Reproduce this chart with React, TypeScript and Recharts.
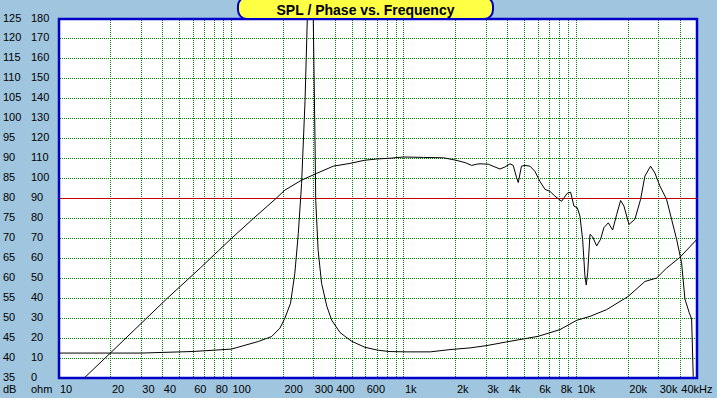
import React from 'react';
import { LineChart, Line, XAxis, YAxis, CartesianGrid, ReferenceLine, ReferenceArea } from 'recharts';

// axis ticks
const dbTicks = [35, 40, 45, 50, 55, 60, 65, 70, 75, 80, 85, 90, 95, 100, 105, 110, 115, 120, 125];
const ohmTicks = [0, 10, 20, 30, 40, 50, 60, 70, 80, 90, 100, 110, 120, 130, 140, 150, 160, 170, 180];
const freqGrid = [
  10, 20, 30, 40, 50, 60, 70, 80, 90,
  100, 200, 300, 400, 500, 600, 700, 800, 900,
  1000, 2000, 3000, 4000, 5000, 6000, 7000, 8000, 9000,
  10000, 20000, 30000, 40000,
];
const labeledFreqs = [10, 20, 30, 40, 60, 80, 100, 200, 300, 400, 600, 1000, 2000, 3000, 4000, 6000, 8000, 10000, 20000, 30000, 40000];
const freqLabelText = ['10', '20', '30', '40', '60', '80', '100', '200', '300', '400', '600', '1k', '2k', '3k', '4k', '6k', '8k', '10k', '20k', '30k', '40kHz'];

// SPL curve (dB, left scale)
const splFreq = [
  14, 20, 42, 66, 84, 100, 134, 179, 204, 255, 312, 389, 486, 594, 695, 830, 990, 1300, 1700, 2000,
  2260, 2470, 2640, 2760, 3080, 3370, 3600, 3850, 4120, 4300, 4500, 4600, 4800, 5030, 5380, 5750, 6140,
  6570, 7020, 7500, 8200, 8840, 9250, 9670, 10110, 10480, 10860, 11200, 11400, 11620, 11980, 12410,
  13100, 13810, 14430, 15300, 16220, 17110, 18040, 18860, 20160, 21830, 23550, 24940, 26900, 28500,
  30480, 33310, 35610, 38070, 40700, 42560, 45050, 46530, 47550,
];
const splDb = [
  35, 41.4, 54.8, 62.6, 66.9, 70, 75, 79.8, 82.1, 84.6, 86.3, 88.1, 88.8, 89.6, 89.9, 90.1, 90.4, 90.3, 90.2, 89.6,
  89, 88.3, 88.6, 88.7, 88.6, 87.9, 87.4, 87.9, 88.7, 88.3, 85.2, 84, 88.1, 88.3, 88.1, 86.8, 84.3,
  82.3, 81.8, 80.6, 79.3, 81.3, 81.6, 78.1, 77.7, 75.6, 69.8, 60.6, 58.3, 61.4, 71, 70.4,
  68.1, 69.8, 72.7, 73.9, 72.1, 76, 79.5, 78.1, 73.5, 74.8, 79.8, 85.6, 88.1, 86.4,
  83.1, 79.8, 74.8, 69.8, 63.9, 54.8, 51.4, 49.8, 35.3,
];

// impedance curve (ohm, right-hand label column)
const impFreq = [
  10, 30, 60, 100, 143, 171, 191, 204, 220, 233, 244, 255, 267, 275, 285, 298, 305, 308, 318, 333, 357, 381,
  426, 455, 498, 594, 709, 830, 1040, 1420, 1850, 2420, 3020, 3940, 6000, 8020, 10020, 11980, 14940,
  19950, 24940, 29130, 33310, 39810, 50000,
];
const impOhm = [
  12.5, 12.5, 13.3, 14.5, 18.3, 20.8, 25, 30, 37.5, 52.5, 72.5, 97.5, 139, 179, 230, 180, 119, 89, 64, 47.5, 36, 29,
  22.8, 20.9, 18.4, 15.4, 13.9, 13.25, 13.1, 13.1, 14.25, 15.1, 16.25, 18.1, 20.9, 24.25, 28.9, 30.9, 34.25,
  40.9, 48.4, 50.1, 55.1, 60.5, 69.6,
];

const splData = splFreq.map((f, i) => ({ f, db: splDb[i] }));
const impData = impFreq.map((f, i) => ({ f, ohm: impOhm[i] }));

const BG = '#A0C6DF';
const BLUE = '#0000C8';
const GRID = '#008000';
const FONT = "'Liberation Sans', Arial, sans-serif";

const snap = (v: number) => Math.floor(v) + 0.5;

// dotted green grid line, snapped to whole pixels
const GridLine = (p: any) => (
  <line
    key={p.key}
    x1={snap(p.x1)}
    y1={snap(p.y1)}
    x2={snap(p.x2)}
    y2={snap(p.y2)}
    stroke={GRID}
    strokeWidth={1}
    strokeDasharray="1 1"
    shapeRendering="crispEdges"
  />
);

const YTick = (props: any) => {
  const { y, payload } = props;
  const idx = dbTicks.indexOf(payload.value);
  return (
    <g>
      <text x={3} y={y + 2.5} fontSize={11} fill="#000" textAnchor="start">{payload.value}</text>
      <text x={31} y={y + 2.5} fontSize={11} fill="#000" textAnchor="start">{ohmTicks[idx]}</text>
      {idx === 0 && (
        <>
          <text x={3} y={y + 15} fontSize={11} fill="#000">dB</text>
          <text x={31} y={y + 15} fontSize={11} fill="#000">ohm</text>
        </>
      )}
    </g>
  );
};

const XTick = (props: any) => {
  const { x, y, payload } = props;
  const idx = labeledFreqs.indexOf(payload.value);
  if (idx < 0) return null;
  return (
    <text x={x + 1} y={y + 15} fontSize={11} fill="#000" textAnchor="start">{freqLabelText[idx]}</text>
  );
};

const App: React.FC = () => {
  return (
    <div style={{ position: 'fixed', left: 0, top: 0, width: 717, height: 398, background: BG, overflow: 'hidden', fontFamily: FONT }}>
      <LineChart width={717} height={398} margin={{ top: 19, right: 20, bottom: 0, left: 0 }} style={{ fontFamily: FONT }}>
        <CartesianGrid
          yAxisId="db"
          fill="#fff"
          stroke={GRID}
          horizontal={(p: any) => <GridLine {...p} />}
          vertical={(p: any) => <GridLine {...p} />}
        />
        <XAxis
          dataKey="f"
          type="number"
          scale="log"
          domain={[10, 50000]}
          allowDataOverflow
          ticks={freqGrid}
          interval={0}
          height={20}
          tickLine={false}
          axisLine={false}
          tickSize={0}
          tickMargin={0}
          tick={(p: any) => <XTick {...p} />}
        />
        <YAxis
          yAxisId="db"
          type="number"
          domain={[35, 125]}
          allowDataOverflow
          ticks={dbTicks}
          interval={0}
          width={59}
          tickLine={false}
          axisLine={false}
          tick={(p: any) => <YTick {...p} />}
        />
        <YAxis yAxisId="ohm" type="number" domain={[0, 180]} allowDataOverflow hide />
        <ReferenceLine yAxisId="db" y={80} stroke="#C00000" strokeWidth={1} shapeRendering="crispEdges" />
        <Line
          yAxisId="ohm"
          data={impData}
          dataKey="ohm"
          type="linear"
          stroke="#000"
          strokeWidth={1}
          dot={false}
          isAnimationActive={false}
        />
        <Line
          yAxisId="db"
          data={splData}
          dataKey="db"
          type="linear"
          stroke="#000"
          strokeWidth={1}
          dot={false}
          isAnimationActive={false}
        />
        <ReferenceArea yAxisId="db" x1={10} x2={50000} y1={35} y2={125} fill="none" stroke={BLUE} strokeWidth={2.5} ifOverflow="visible" />
      </LineChart>
      <div
        style={{
          position: 'absolute', left: 237, top: -4, width: 253, height: 20,
          background: '#FFFF44', border: `2px solid ${BLUE}`, borderRadius: 10,
        }}
      />
      <div
        style={{
          position: 'absolute', left: 237, top: 2, width: 257, textAlign: 'center',
          fontSize: 14, fontWeight: 'bold', lineHeight: '16px', color: '#000',
        }}
      >
        SPL / Phase vs. Frequency
      </div>
    </div>
  );
};

export default App;
